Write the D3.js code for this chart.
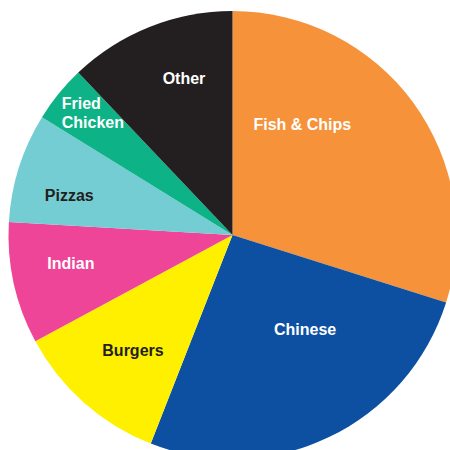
<!DOCTYPE html>
<html lang=en>
<head>
    <meta charset='utf-8'>
    <script src="https://d3js.org/d3.v7.min.js"></script>
    <style>
        body { margin: 0; background: #fff; }
        text { font-family: "Liberation Sans", Arial, sans-serif; font-weight: bold; font-size: 16px; }
    </style>
</head>
<body>
<div id="chart"></div>
<script>
    // data (percent share, read clockwise from 12 o'clock)
    var categories = ["Fish & Chips", "Chinese", "Burgers", "Indian", "Pizzas", "Fried Chicken", "Other"];
    var shares = [29.9, 26.1, 11.2, 8.8, 7.9, 4.1, 12.1];

    var colours = ["#f5923a", "#0d50a1", "#fff000", "#ee4598", "#73cdd3", "#0db287", "#231f20"];
    var textColours = ["#fff", "#fff", "#231f20", "#fff", "#231f20", "#fff", "#fff"];
    // label placement: angle (deg clockwise from top), radius, anchor
    var labelLayout = [
        {a: 32.2, r: 131, anchor: "middle"},
        {a: 142.4, r: 119, anchor: "middle"},
        {a: 220.9, r: 152, anchor: "middle"},
        {a: 260.2, r: 164, anchor: "middle"},
        {a: 283.7, r: 168, anchor: "middle"},
        {a: 305.6, r: 210, anchor: "start"},
        {a: 342.8, r: 164, anchor: "middle"}
    ];

    var width = 450, height = 450,
        cx = 232.5, cy = 235, radius = 224;

    var svg = d3.select("#chart")
        .append("svg")
            .attr("width", width)
            .attr("height", height)
        .append("g")
            .attr("transform", "translate(" + cx + "," + cy + ")");

    var pie = d3.pie().sort(null).value(function(d) { return d; });
    var arc = d3.arc().innerRadius(0).outerRadius(radius);

    var slices = pie(shares);

    svg.selectAll("path")
        .data(slices)
        .enter()
        .append("path")
        .attr("d", arc)
        .attr("fill", function(d, i) { return colours[i]; });

    // labels
    var labels = svg.selectAll(".label")
        .data(categories)
        .enter()
        .append("text")
        .attr("class", "label")
        .attr("text-anchor", function(d, i) { return labelLayout[i].anchor; })
        .attr("fill", function(d, i) { return textColours[i]; })
        .attr("transform", function(d, i) {
            var p = d3.pointRadial(labelLayout[i].a * Math.PI / 180, labelLayout[i].r);
            return "translate(" + p[0] + "," + p[1] + ")";
        });

    labels.each(function(d) {
        var words = d === "Fried Chicken" ? d.split(" ") : [d];
        var t = d3.select(this);
        var lineH = 19;
        words.forEach(function(w, j) {
            t.append("tspan")
                .attr("x", 0)
                .attr("y", (j - (words.length - 1) / 2) * lineH + 5.8)
                .text(w);
        });
    });
</script>
</body>
</html>
